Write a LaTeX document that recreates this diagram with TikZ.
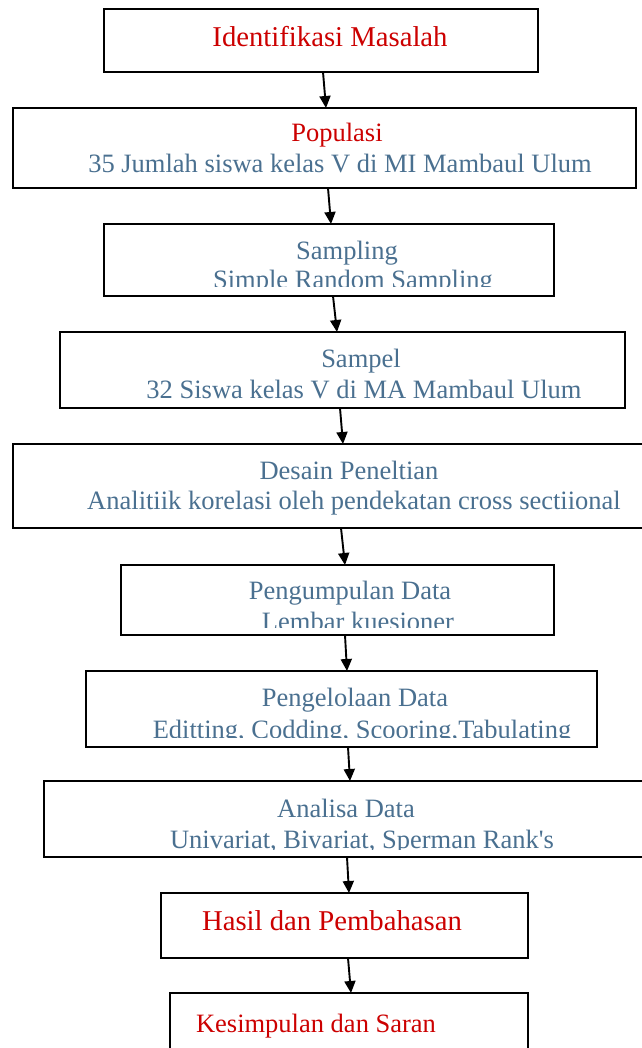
\documentclass[tikz,border=0pt]{standalone}
\usepackage{fontspec}
\setmainfont{Liberation Serif}
\usetikzlibrary{arrows.meta}
\definecolor{hred}{HTML}{CC0000}
\definecolor{hblue}{HTML}{4A7090}
\tikzset{
  box/.style={draw=black, line width=1.8pt, fill=white, rectangle, anchor=north west, inner sep=0pt, outer sep=0pt},
  redtxt/.style={text=hred, font=\fontsize{28.7}{32}\selectfont, anchor=base, inner sep=0pt},
  bluetxt/.style={text=hblue, font=\fontsize{26.5}{30}\selectfont, anchor=base, inner sep=0pt},
  arr/.style={line width=1.9pt, -{Triangle[length=12pt,width=11pt]}},
}
\begin{document}
\begin{tikzpicture}[x=1pt,y=-1pt]
\useasboundingbox (0,0) rectangle (641,1048);
% boxes
\node[box, minimum width=434pt, minimum height=63pt] (b1) at (104,9) {};
\node[box, minimum width=623pt, minimum height=80pt] (b2) at (13,108) {};
\node[box, minimum width=450pt, minimum height=72pt] (b3) at (104,224) {};
\node[box, minimum width=565pt, minimum height=76pt] (b4) at (60,332) {};
\node[box, minimum width=640pt, minimum height=84pt] (b5) at (13,444) {};
\node[box, minimum width=433pt, minimum height=70pt] (b6) at (121,565) {};
\node[box, minimum width=511pt, minimum height=76pt] (b7) at (86,671) {};
\node[box, minimum width=610pt, minimum height=76pt] (b8) at (44,781) {};
\node[box, minimum width=367pt, minimum height=65pt] (b9) at (161,893) {};
\node[box, minimum width=358pt, minimum height=70pt] (b10) at (170,993) {};
% texts
\node[redtxt] (t1) at (330,47) {Identifikasi Masalah};
\node[redtxt, font=\fontsize{26.5}{30}\selectfont] (t2a) at (337,142) {Populasi};
\node[bluetxt] (t2b) at (340,173) {35 Jumlah siswa kelas V di MI Mambaul Ulum};
\node[bluetxt] (t3a) at (347,260) {Sampling};
\begin{scope}
\clip (104,224) rectangle (554,287);
\node[bluetxt] (t3b) at (353,289) {Simple Random Sampling};
\end{scope}
\node[bluetxt] (t4a) at (361,367) {Sampel};
\node[bluetxt] (t4b) at (364,398) {32 Siswa kelas V di MA Mambaul Ulum};
\node[bluetxt] (t5a) at (349,479) {Desain Peneltian};
\node[bluetxt] (t5b) at (354,509) {Analitiik korelasi oleh pendekatan cross sectiional};
\node[bluetxt] (t6a) at (350,599) {Pengumpulan Data};
\begin{scope}
\clip (121,565) rectangle (554,627);
\node[bluetxt] (t6b) at (358,630) {Lembar kuesioner};
\end{scope}
\node[bluetxt] (t7a) at (355,706) {Pengelolaan Data};
\begin{scope}
\clip (86,671) rectangle (597,737);
\node[bluetxt] (t7b) at (362,738) {Editting, Codding, Scooring,Tabulating};
\end{scope}
\node[bluetxt] (t8a) at (346,817) {Analisa Data};
\begin{scope}
\clip (44,781) rectangle (654,849);
\node[bluetxt] (t8b) at (362,848) {Univariat, Bivariat, Sperman Rank\textquotesingle s};
\end{scope}
\node[redtxt] (t9) at (332,930) {Hasil dan Pembahasan};
\node[redtxt, font=\fontsize{26.5}{30}\selectfont] (t10) at (316,1032) {Kesimpulan dan Saran};
% arrows
\draw[arr] ([xshift=219pt]b1.south west) -- ([xshift=313pt]b2.north west);
\draw[arr] ([xshift=315pt]b2.south west) -- ([xshift=227pt]b3.north west);
\draw[arr] ([xshift=229pt]b3.south west) -- ([xshift=277pt]b4.north west);
\draw[arr] ([xshift=280pt]b4.south west) -- ([xshift=330pt]b5.north west);
\draw[arr] ([xshift=328pt]b5.south west) -- ([xshift=224pt]b6.north west);
\draw[arr] ([xshift=224pt]b6.south west) -- ([xshift=261pt]b7.north west);
\draw[arr] ([xshift=262pt]b7.south west) -- ([xshift=306pt]b8.north west);
\draw[arr] ([xshift=303pt]b8.south west) -- ([xshift=188pt]b9.north west);
\draw[arr] ([xshift=187pt]b9.south west) -- ([xshift=181pt]b10.north west);
\end{tikzpicture}
\end{document}
